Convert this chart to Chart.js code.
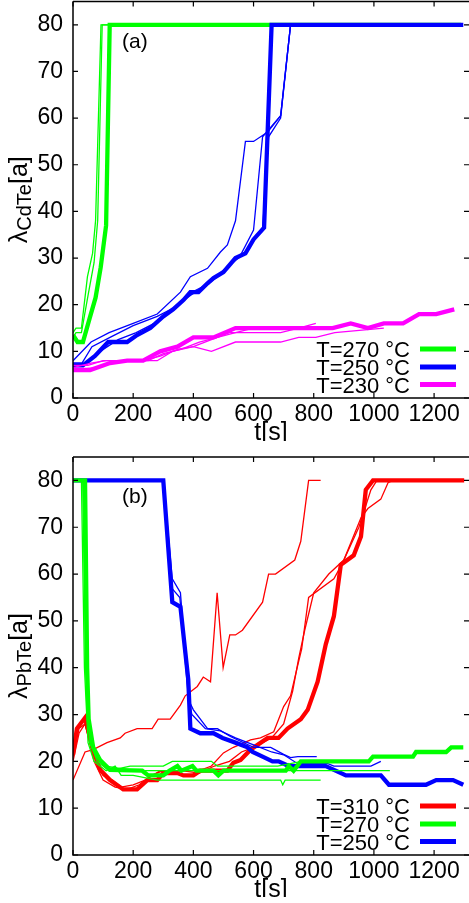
<!DOCTYPE html>
<html><head><meta charset="utf-8">
<script src="https://cdn.jsdelivr.net/npm/chart.js@4.4.1/dist/chart.umd.min.js"></script>
<style>
html,body{margin:0;padding:0;background:#fff;width:469px;height:903px;overflow:hidden}
canvas{position:absolute;left:0}
#ca{top:0}
#cb{top:455px}
</style></head><body>
<canvas id="ca" width="469" height="441"></canvas>
<canvas id="cb" width="469" height="442"></canvas>
<script>
// ---------- axis ticks ----------
const X_TICKS = [0, 200, 400, 600, 800, 1000, 1200];
const Y_TICKS = [0, 10, 20, 30, 40, 50, 60, 70, 80];

// ---------- panel (a): CdTe ----------
const A_LEGEND = ['T=270 °C', 'T=250 °C', 'T=230 °C'];
const A_G_THICK_T = [0, 15, 33, 55, 75, 92, 110, 122, 1290];
const A_G_THICK_V = [13.5, 12, 12, 17, 21.5, 28, 37, 80, 80];
const A_G_THIN1_T = [0, 10, 28, 48, 65, 75, 93, 125];
const A_G_THIN1_V = [14, 15, 15, 26, 31, 38, 80, 80];
const A_G_THIN2_T = [0, 10, 28, 50, 70, 82, 97, 125];
const A_G_THIN2_V = [13, 14, 14, 22, 29, 38, 80, 80];

const A_B_THICK_T = [0, 33, 73, 117, 180, 213, 257, 300, 333, 367, 390, 417, 447, 467, 500, 540, 573, 600, 635, 660, 1297];
const A_B_THICK_V = [7, 7, 9, 12, 12, 13.5, 15, 17.5, 19, 21, 22.7, 22.7, 24.6, 25.7, 27, 30, 31, 34, 36.5, 80, 80];
const A_B_THIN1_T = [0, 60, 120, 200, 280, 357, 390, 447, 490, 513, 540, 573, 600, 647, 690, 723, 1000];
const A_B_THIN1_V = [8, 12, 14, 16, 18, 22.7, 26, 27.8, 31.3, 32.8, 38, 55, 55, 57, 60.5, 80, 80];
const A_B_THIN2_T = [0, 30, 63, 123, 200, 280, 340, 390, 440, 500, 560, 600, 630, 690, 723];
const A_B_THIN2_V = [7.5, 7.5, 11, 13, 15.5, 17.5, 19.5, 22, 24, 27, 31, 36, 56, 60.5, 80];
const A_B_THIN3_T = [0, 40, 90, 150, 210, 270, 330, 390, 450, 510, 570, 610, 630, 650, 690, 723];
const A_B_THIN3_V = [7, 7.5, 10, 12.5, 14, 16, 19, 22.5, 24.5, 28, 31, 35, 36, 56, 60, 80];

const A_M_THICK_T = [0, 57, 123, 180, 233, 290, 347, 400, 467, 540, 863, 923, 980, 1033, 1097, 1150, 1207, 1267];
const A_M_THICK_V = [6, 6, 7.5, 8, 8, 10, 11, 13, 13, 15, 15, 16, 15, 16, 16, 18, 18, 19];
const A_M_THIN1_T = [0, 50, 100, 230, 290, 350, 400, 460, 520, 560, 690, 750, 807];
const A_M_THIN1_V = [7, 7, 8, 8, 9, 10.5, 11, 12.5, 14, 14, 14, 15, 16];
const A_M_THIN2_T = [0, 60, 110, 280, 330, 400, 460, 540, 690, 750, 807, 870, 1033];
const A_M_THIN2_V = [6.5, 7.5, 8, 8, 10, 11, 10, 12, 12, 13, 13, 14, 15];
const A_M_THIN3_T = [0, 80, 150, 250, 300, 360, 420, 480, 540, 600, 700];
const A_M_THIN3_V = [6, 6.5, 8, 8, 9.5, 10.5, 12, 13, 14, 15, 15];

// ---------- panel (b): PbTe ----------
const B_LEGEND = ['T=310 °C', 'T=270 °C', 'T=250 °C'];
const B_R_THICK_T = [0, 13, 40, 67, 90, 123, 167, 213, 247, 280, 300, 347, 367, 400, 423, 513, 533, 557, 590, 647, 683, 713, 757, 780, 813, 840, 867, 890, 933, 957, 973, 997, 1300];
const B_R_THICK_V = [21.4, 27, 29.3, 22.5, 18.2, 16, 14, 14, 16, 16, 17.5, 17.5, 17, 17, 18, 18, 19.7, 20.3, 22.5, 25, 25, 27, 29, 31, 37, 45, 51, 62, 64, 68, 78, 80, 80];
const B_R_THIN1_T = [0, 40, 67, 113, 157, 173, 213, 263, 283, 323, 357, 373, 413, 433, 457, 479, 499, 521, 540, 563, 630, 650, 673, 737, 757, 783, 823];
const B_R_THIN1_V = [16, 22, 22.5, 24, 25, 26, 27, 27, 29, 29, 32, 34, 36, 38, 37, 56, 40, 47, 47, 48, 54, 60, 60, 63, 67, 80, 80];
const B_R_THIN2_T = [0, 20, 40, 70, 100, 130, 160, 200, 240, 290, 350, 420, 460, 500, 533, 590, 623, 667, 700, 723, 745, 760, 783, 867, 897, 957, 980, 1023, 1047, 1063, 1100];
const B_R_THIN2_V = [20, 26, 28, 21, 17, 16, 14.5, 15, 16, 18, 18, 18, 19, 21.8, 23, 24.6, 25, 26.3, 31.7, 34, 40, 44, 55, 59, 62.5, 72, 74, 76, 79.5, 80, 80];
const B_R_THIN3_T = [0, 20, 40, 70, 100, 140, 180, 220, 260, 300, 360, 420, 470, 520, 560, 600, 660, 700, 730, 750, 770, 800, 850, 900, 950, 990, 1010, 1050];
const B_R_THIN3_V = [21, 27, 28, 20, 16, 14.5, 14, 15, 17, 18, 18, 17.5, 19, 20, 22, 23, 25, 28, 35, 42, 48, 56, 60, 63, 70, 78, 80, 80];

const B_G_THICK_T = [0, 40, 47, 52, 67, 90, 123, 230, 250, 300, 320, 347, 360, 397, 410, 467, 483, 500, 707, 717, 733, 757, 983, 997, 1130, 1140, 1240, 1257, 1297];
const B_G_THICK_V = [80, 80, 40, 29, 23, 20.3, 18.2, 18, 17, 17, 18, 19, 18, 19, 18, 18, 17, 18, 18, 19, 18, 20, 20, 21, 21, 22, 22, 23, 23];
const B_G_THIN1_T = [0, 28, 38, 50, 70, 110, 140, 160, 200, 280, 690, 697, 705, 823];
const B_G_THIN1_V = [80, 80, 40, 24, 20, 18, 19, 17, 17, 16, 16, 15, 16, 16];
const B_G_THIN2_T = [0, 32, 42, 55, 75, 110, 200, 1053];
const B_G_THIN2_V = [80, 80, 40, 24, 21, 19, 18, 18];
const B_G_THIN3_T = [0, 35, 45, 58, 80, 120, 190, 300, 330, 460, 480, 560, 680, 760, 820];
const B_G_THIN3_V = [80, 80, 40, 24, 20, 18, 19, 19, 20, 20, 19, 19, 19, 20, 20];

const B_B_THICK_T = [0, 300, 330, 357, 383, 390, 423, 467, 497, 540, 580, 597, 630, 663, 683, 717, 763, 840, 907, 1023, 1050, 1173, 1207, 1263, 1297];
const B_B_THICK_V = [80, 80, 54, 53, 37.5, 27, 26, 26, 25, 24, 23, 22, 21, 20, 20, 19, 19, 19, 17, 17, 15, 15, 16, 16, 15];
const B_B_THIN1_T = [0, 300, 330, 357, 385, 400, 447, 480, 523, 600, 657, 700, 723, 747, 810];
const B_B_THIN1_V = [80, 80, 59, 56, 33, 31, 27, 27, 25.3, 23, 23, 21.5, 20.8, 21, 21];
const B_B_THIN2_T = [0, 300, 328, 355, 383, 395, 440, 490, 540, 600, 660, 700, 747, 847, 867, 990, 1023];
const B_B_THIN2_V = [80, 80, 57, 55, 34, 30, 27, 26.5, 25, 23.5, 22, 21.4, 19.5, 19.5, 19, 19, 20];

// ---------- rendering ----------
const FONT = "'Liberation Sans', Arial, Helvetica, sans-serif";
const GREEN = '#00ff00', BLUE = '#0000ff', MAGENTA = '#ff00ff', RED = '#ff0000';
const THICK = 4.3, THIN = 1.3;

function xy(t, v) { return t.map((x, i) => ({ x: x, y: v[i] })); }

function series(list) {
  // list is bottom-to-top drawing order
  return list.map((s, i) => ({
    data: xy(s[0], s[1]),
    borderColor: s[2],
    borderWidth: s[3],
    pointRadius: 0,
    fill: false,
    tension: 0,
    order: list.length - i
  }));
}

function makePanel(id, datasets, sub, panelText, legendLabels, legendColors, padTop, xAxisH) {
  const deco = {
    id: 'deco' + id,
    afterDraw(chart) {
      const ctx = chart.ctx, a = chart.chartArea;
      const xs = chart.scales.x, ys = chart.scales.y;
      ctx.save();
      // frame
      ctx.strokeStyle = '#000';
      ctx.lineWidth = 1.5;
      ctx.beginPath();
      ctx.moveTo(a.left, a.top); ctx.lineTo(chart.width, a.top);
      ctx.moveTo(a.left, a.top); ctx.lineTo(a.left, a.bottom); ctx.lineTo(chart.width, a.bottom);
      ctx.stroke();
      // inward ticks on all sides
      ctx.lineWidth = 1.2;
      ctx.beginPath();
      X_TICKS.forEach(v => {
        const px = xs.getPixelForValue(v);
        ctx.moveTo(px, a.bottom); ctx.lineTo(px, a.bottom - 5);
        ctx.moveTo(px, a.top); ctx.lineTo(px, a.top + 5);
      });
      Y_TICKS.forEach(v => {
        const py = ys.getPixelForValue(v);
        ctx.moveTo(a.left, py); ctx.lineTo(a.left + 5, py);
        ctx.moveTo(a.right, py); ctx.lineTo(a.right - 5, py);
      });
      ctx.stroke();
      ctx.fillStyle = '#000';
      // y title with subscript
      ctx.save();
      ctx.translate(27, (a.top + a.bottom) / 2);
      ctx.rotate(-Math.PI / 2);
      ctx.textBaseline = 'alphabetic';
      ctx.textAlign = 'left';
      ctx.font = '25px ' + FONT;
      const w1 = ctx.measureText('λ').width, w3 = ctx.measureText('[a]').width;
      ctx.font = '20px ' + FONT;
      const w2 = ctx.measureText(sub).width;
      const x0 = -(w1 + w2 + w3) / 2;
      ctx.font = '25px ' + FONT; ctx.fillText('λ', x0, 0);
      ctx.font = '20px ' + FONT; ctx.fillText(sub, x0 + w1, 4);
      ctx.font = '25px ' + FONT; ctx.fillText('[a]', x0 + w1 + w2, 0);
      ctx.restore();
      // x title
      ctx.font = '25px ' + FONT;
      ctx.textAlign = 'center';
      ctx.textBaseline = 'alphabetic';
      ctx.fillText('t[s]', (a.left + a.right) / 2, a.bottom + 42);
      // panel label
      ctx.font = '21px ' + FONT;
      ctx.textAlign = 'left';
      ctx.fillText(panelText, 122, a.top + 46);
      // legend
      const offs = [49, 31, 13.5];
      ctx.font = '22px ' + FONT;
      ctx.textAlign = 'right';
      legendLabels.forEach((lab, i) => {
        const y = a.bottom - offs[i];
        ctx.fillStyle = '#000';
        ctx.fillText(lab, 410, y + 8);
        ctx.strokeStyle = legendColors[i];
        ctx.lineWidth = 5;
        ctx.beginPath(); ctx.moveTo(420, y); ctx.lineTo(456, y); ctx.stroke();
      });
      ctx.restore();
    }
  };
  return new Chart(document.getElementById(id), {
    type: 'line',
    data: { datasets: datasets },
    options: {
      responsive: false,
      animation: false,
      devicePixelRatio: 1,
      layout: { padding: { top: padTop, right: 0, left: 0, bottom: 0 } },
      plugins: { legend: { display: false }, tooltip: { enabled: false } },
      scales: {
        x: {
          type: 'linear', min: 0, max: 1316,
          afterFit: s => { s.height = xAxisH; s.paddingLeft = 0; s.paddingRight = 0; },
          grid: { display: false, drawTicks: false },
          border: { display: false },
          ticks: { stepSize: 200, includeBounds: false, padding: 3, maxRotation: 0, autoSkip: false,
                   callback: v => String(v),
                   color: '#000', font: { family: FONT, size: 23 } }
        },
        y: {
          type: 'linear', min: 0, max: 85,
          afterFit: s => { s.width = 73; s.paddingTop = 0; s.paddingBottom = 0; },
          grid: { display: false, drawTicks: false },
          border: { display: false },
          ticks: { stepSize: 10, includeBounds: false, padding: 10,
                   callback: v => String(v),
                   color: '#000', font: { family: FONT, size: 23 } }
        }
      }
    },
    plugins: [deco]
  });
}

makePanel('ca', series([
  [A_G_THIN1_T, A_G_THIN1_V, GREEN, THIN],
  [A_G_THIN2_T, A_G_THIN2_V, GREEN, THIN],
  [A_G_THICK_T, A_G_THICK_V, GREEN, THICK],
  [A_B_THIN1_T, A_B_THIN1_V, BLUE, THIN],
  [A_B_THIN2_T, A_B_THIN2_V, BLUE, THIN],
  [A_B_THIN3_T, A_B_THIN3_V, BLUE, THIN],
  [A_B_THICK_T, A_B_THICK_V, BLUE, THICK],
  [A_M_THIN1_T, A_M_THIN1_V, MAGENTA, THIN],
  [A_M_THIN2_T, A_M_THIN2_V, MAGENTA, THIN],
  [A_M_THIN3_T, A_M_THIN3_V, MAGENTA, THIN],
  [A_M_THICK_T, A_M_THICK_V, MAGENTA, THICK]
]), 'CdTe', '(a)', A_LEGEND, [GREEN, BLUE, MAGENTA], 1.5, 43);

makePanel('cb', series([
  [B_R_THIN1_T, B_R_THIN1_V, RED, THIN],
  [B_R_THIN2_T, B_R_THIN2_V, RED, THIN],
  [B_R_THIN3_T, B_R_THIN3_V, RED, THIN],
  [B_R_THICK_T, B_R_THICK_V, RED, THICK],
  [B_B_THIN1_T, B_B_THIN1_V, BLUE, THIN],
  [B_B_THIN2_T, B_B_THIN2_V, BLUE, THIN],
  [B_B_THICK_T, B_B_THICK_V, BLUE, THICK],
  [B_G_THIN1_T, B_G_THIN1_V, GREEN, THIN],
  [B_G_THIN2_T, B_G_THIN2_V, GREEN, THIN],
  [B_G_THIN3_T, B_G_THIN3_V, GREEN, THIN],
  [B_G_THICK_T, B_G_THICK_V, GREEN, THICK]
]), 'PbTe', '(b)', B_LEGEND, [RED, GREEN, BLUE], 2, 42);
</script>
</body></html>
